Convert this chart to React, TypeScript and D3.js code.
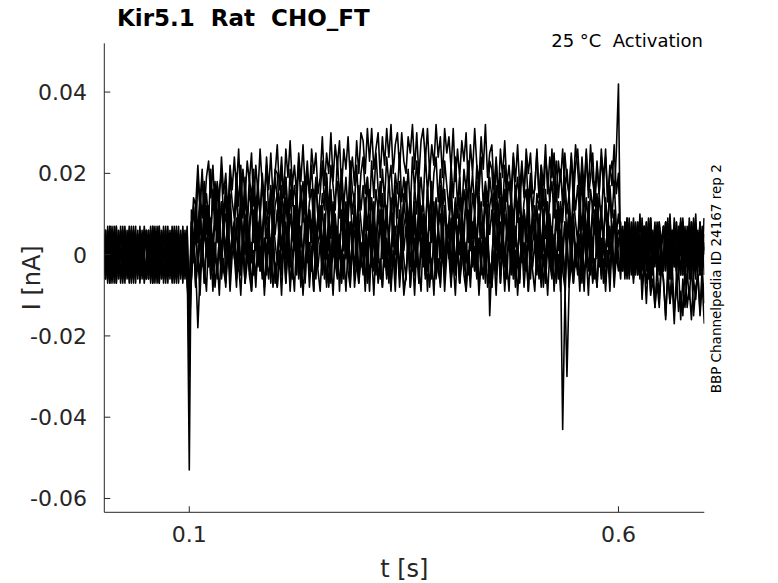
import React from 'react';
import * as d3 from 'd3';

// Sweep currents in pA (1 pA = 0.001 nA), sampled every 2.5 ms from t = 0 to 0.7 s
const dt = 0.0025;

const sweep1: number[] = [
  -4,6,-6,2,-3,7,-5,4,-1,5,-7,3,-2,6,-4,1,-6,5,-3,7,
  2,-6,5,-3,7,-5,0,6,-7,3,-4,5,-2,7,-6,1,4,-5,6,-3,
  -20,
  3,14,12,22,12,21,10,19,23,14,22,11,18,13,24,15,20,10,22,16,
  24,16,26,13,21,14,23,18,25,12,22,15,26,17,13,24,16,25,14,20,
  27,16,24,14,26,19,28,17,22,15,25,18,27,16,23,14,26,20,25,15,
  19,29,17,25,20,30,18,27,22,28,16,26,21,29,19,24,17,28,20,30,
  28,20,31,23,31,21,26,30,19,29,22,31,24,32,20,27,30,21,30,23,
  20,29,25,32,21,30,19,28,31,23,31,20,27,22,32,24,29,19,31,25,
  29,21,31,18,26,19,28,23,30,17,27,20,31,22,18,29,21,32,19,25,
  27,16,24,14,26,19,28,17,22,15,25,18,27,16,23,14,26,20,25,15,
  16,26,14,22,17,27,15,24,19,25,13,23,18,26,16,21,14,25,17,27,
  21,13,24,16,26,14,19,25,12,22,15,24,17,26,13,20,23,14,25,
  42,
  -4,5,1,9,-3,6,-5,4,8,-1,7,-4,3,-2,9,0,5,-5,7,1,
  7,-1,9,-4,4,-3,6,1,8,-5,5,-2,9,0,-4,7,-1,8,-3,3,
];
const sweep2: number[] = [
  -2,6,-5,3,-7,5,0,-6,7,-3,4,-5,2,-7,6,-1,-4,5,-6,3,
  6,-3,1,-7,5,-4,7,-2,-6,3,-5,6,-1,4,-7,2,-3,7,-5,1,
  -30,
  2,12,4,19,12,19,10,15,8,21,11,18,7,16,20,9,17,8,19,13,
  9,20,12,22,10,17,8,19,14,21,11,18,9,20,13,22,10,16,11,21,
  20,10,22,14,19,9,21,12,17,11,23,13,18,10,20,15,22,11,19,9,
  15,23,12,20,10,22,17,11,24,14,21,12,19,10,23,16,13,22,11,20,
  24,15,19,11,23,14,25,16,12,21,13,24,17,22,11,20,15,25,13,19,
  13,21,11,24,16,23,14,19,12,25,15,22,11,20,24,13,21,12,23,17,
  11,22,14,24,12,19,10,21,16,23,13,20,11,22,15,24,12,18,13,23,
  21,11,23,15,20,10,22,13,18,12,24,14,19,11,21,16,23,12,20,10,
  17,25,14,22,12,24,19,13,26,16,23,14,21,12,25,18,15,24,13,22,
  26,17,21,13,25,16,27,18,14,23,15,26,19,24,13,22,17,27,15,
  20,
  -2,6,-4,9,1,8,-1,4,-3,10,0,7,-4,5,9,-2,6,-3,8,2,
  -3,8,0,10,-2,5,-4,7,2,9,-1,6,-3,8,1,10,-2,4,-1,9,
];
const sweep3: number[] = [
  -6,3,-1,7,-5,4,-7,2,6,-3,5,-6,1,-4,7,-2,3,-7,5,-1,
  5,-3,7,-6,2,-5,4,-1,6,-7,3,-4,7,-2,-6,5,-3,6,-5,1,
  -53,
  11,2,12,3,16,9,18,7,12,5,15,8,17,6,13,4,16,10,15,5,
  8,18,6,14,9,19,7,16,11,17,5,15,10,18,8,13,6,17,9,19,
  14,6,17,9,19,7,12,18,5,15,8,17,10,19,6,13,16,7,18,9,
  6,15,11,19,7,16,5,14,18,9,17,6,13,8,19,10,15,5,17,11,
  17,9,19,6,14,7,16,11,18,5,15,8,19,10,6,17,9,18,7,13,
  18,7,15,5,17,10,19,8,13,6,16,9,18,7,14,5,17,11,16,6,
  8,18,6,14,9,19,7,16,11,17,5,15,10,18,8,13,6,17,9,19,
  14,6,17,9,19,7,12,18,5,15,8,17,10,19,6,13,16,7,18,9,
  6,15,11,19,7,16,5,14,18,9,17,6,13,8,19,10,15,5,17,11,
  17,9,19,6,14,7,16,11,18,5,15,8,19,10,6,17,9,18,7,
  8,
  8,-3,5,-5,7,0,9,-2,3,-4,6,-1,8,-3,4,-5,7,1,6,-4,
  -2,8,-4,4,-1,9,-3,6,1,7,-5,5,0,8,-2,3,-4,7,-1,9,
];
const sweep4: number[] = [
  -5,3,-7,6,-2,5,-4,1,-6,7,-3,4,-7,2,6,-5,3,-6,5,-1,
  -6,5,-3,7,-5,2,-7,4,-1,6,-4,3,-6,5,-2,7,-5,1,-4,6,
  -18,
  8,0,13,6,12,2,14,5,10,4,16,6,11,3,13,8,15,4,12,2,
  7,15,4,12,2,14,9,3,16,6,13,4,11,2,15,8,5,14,3,12,
  15,6,10,2,14,5,16,7,3,12,4,15,8,13,2,11,6,16,4,10,
  4,12,2,15,7,14,5,10,3,16,6,13,2,11,15,4,12,3,14,8,
  3,14,6,16,4,11,2,13,8,15,5,12,3,14,7,16,4,10,5,15,
  13,3,15,7,12,2,14,5,10,4,16,6,11,3,13,8,15,4,12,2,
  7,15,4,12,2,14,9,3,16,6,13,4,11,2,15,8,5,14,3,12,
  15,6,10,2,14,5,16,7,3,12,4,15,8,13,2,11,6,16,4,10,
  4,12,2,15,7,14,5,10,3,16,6,13,2,11,15,4,12,3,14,8,
  3,14,6,16,4,11,2,13,8,15,5,12,3,14,7,16,4,10,5,
  10,
  6,-4,8,0,5,-5,7,-2,3,-3,9,-1,4,-4,6,1,8,-3,5,-5,
  0,8,-3,5,-5,7,2,-4,9,-1,6,-3,4,-5,8,1,-2,7,-4,5,
];
const sweep5: number[] = [
  6,-5,3,-7,5,-2,7,-4,1,-6,4,-3,6,-5,2,-7,5,-1,4,-6,
  -4,6,-6,2,-3,7,-5,4,-1,5,-7,3,-2,6,-4,1,-6,5,-3,7,
  -12,
  5,-2,10,3,13,1,6,12,-1,9,2,11,4,13,0,7,10,1,12,3,
  0,9,5,13,1,10,-1,8,12,3,11,0,7,2,13,4,9,-1,11,5,
  11,3,13,0,8,1,10,5,12,-1,9,2,13,4,0,11,3,12,1,7,
  12,1,9,-1,11,4,13,2,7,0,10,3,12,1,8,-1,11,5,10,0,
  2,12,0,8,3,13,1,10,5,11,-1,9,4,12,2,7,0,11,3,13,
  8,0,11,3,13,1,6,12,-1,9,2,11,4,13,0,7,10,1,12,3,
  0,9,5,13,1,10,-1,8,12,3,11,0,7,2,13,4,9,-1,11,5,
  11,3,13,0,8,1,10,5,12,-1,9,2,13,4,0,11,3,12,1,7,
  12,1,9,-1,11,4,13,2,7,0,10,3,12,1,8,-1,11,5,10,0,
  2,12,0,8,3,13,1,10,5,11,-1,9,4,12,2,7,0,11,3,
  6,
  4,-4,7,-1,9,-3,2,8,-5,5,-2,7,0,9,-4,3,6,-3,8,-1,
  -4,5,1,9,-3,6,-5,4,8,-1,7,-4,3,-2,9,0,5,-5,7,1,
];
const sweep6: number[] = [
  4,-6,6,-2,3,-7,5,-4,1,-5,7,-3,2,-6,4,-1,6,-5,3,-7,
  -2,6,-5,3,-7,5,0,-6,7,-3,4,-5,2,-7,6,-1,-4,5,-6,3,
  -25,
  8,0,5,-3,9,0,11,2,-2,7,-1,10,3,8,-3,6,1,11,-1,5,
  -1,7,-3,10,2,9,0,5,-2,11,1,8,-3,6,10,-1,7,-2,9,3,
  -2,9,1,11,-1,6,-3,8,3,10,0,7,-2,9,2,11,-1,5,0,10,
  8,-2,10,2,7,-3,9,0,5,-1,11,1,6,-2,8,3,10,-1,7,-3,
  2,10,-1,7,-3,9,4,-2,11,1,8,-1,6,-3,10,3,0,9,-2,7,
  10,1,5,-3,9,0,11,2,-2,7,-1,10,3,8,-3,6,1,11,-1,5,
  -1,7,-3,10,2,9,0,5,-2,11,1,8,-3,6,10,-1,7,-2,9,-15,
  -2,9,1,11,-1,6,-3,8,3,10,0,7,-2,9,2,11,-1,5,0,10,
  8,-2,10,2,7,-3,9,0,5,-1,11,1,6,-2,8,3,10,-1,7,-3,
  2,10,-1,7,-3,9,4,-2,11,1,8,-1,6,-3,10,3,0,9,-2,
  3,
  7,-2,2,-6,6,-3,8,-1,-5,4,-4,7,0,5,-6,3,-2,8,-4,2,
  -4,4,-6,7,-1,6,-3,2,-5,8,-2,5,-6,3,7,-4,4,-5,6,0,
];
const sweep7: number[] = [
  2,-6,5,-3,7,-5,0,6,-7,3,-4,5,-2,7,-6,1,4,-5,6,-3,
  -6,3,-1,7,-5,4,-7,2,6,-3,5,-6,1,-4,7,-2,3,-7,5,-1,
  -8,
  7,-1,9,-4,4,-3,6,1,8,-5,5,-2,9,0,-4,7,-1,8,-3,3,
  8,-3,5,-5,7,0,9,-2,3,-4,6,-1,8,-3,4,-5,7,1,6,-4,
  -2,8,-4,4,-1,9,-3,6,1,7,-5,5,0,8,-2,3,-4,7,-1,9,
  4,-4,7,-1,9,-3,2,8,-5,5,-2,7,0,9,-4,3,6,-3,8,-1,
  -4,5,1,9,-3,6,-5,4,8,-1,7,-4,3,-2,9,0,5,-5,7,1,
  7,-1,9,-4,4,-3,6,1,8,-5,5,-2,9,0,-4,7,-1,8,-3,3,
  8,-3,5,-5,7,0,9,-2,3,-4,6,-1,8,-3,4,-5,7,1,6,-4,
  -2,8,-4,4,-1,9,-3,6,1,7,-5,5,0,8,-2,3,-4,7,-1,9,
  4,-4,7,-1,9,-3,2,8,-5,5,-2,7,0,-43,-12,3,6,-3,8,-1,
  -4,5,1,9,-3,6,-5,4,8,-1,7,-4,3,-2,9,0,5,-5,7,
  2,
  6,-2,8,-5,3,-4,5,0,7,-6,4,-3,8,-1,-5,6,-2,7,-4,2,
  7,-4,4,-6,6,-1,8,-3,2,-5,5,-2,7,-4,3,-6,6,0,5,-5,
];
const sweep8: number[] = [
  6,-3,1,-7,5,-4,7,-2,-6,3,-5,6,-1,4,-7,2,-3,7,-5,1,
  -5,3,-7,6,-2,5,-4,1,-6,7,-3,4,-7,2,6,-5,3,-6,5,-1,
  -10,
  -6,5,-3,-18,-5,2,-7,4,-1,6,-4,3,-6,5,-2,7,-5,1,-4,6,
  4,-6,6,-2,3,-7,5,-4,1,-5,7,-3,2,-6,4,-1,6,-5,3,-7,
  -2,6,-5,3,-7,5,0,-6,7,-3,4,-5,2,-7,6,-1,-4,5,-6,3,
  6,-3,1,-7,5,-4,7,-2,-6,3,-5,6,-1,4,-7,2,-3,7,-5,1,
  -5,3,-7,6,-2,5,-4,1,-6,7,-3,4,-7,2,6,-5,3,-6,5,-1,
  -6,5,-3,7,-5,2,-7,4,-1,6,-4,3,-6,5,-2,7,-5,1,-4,6,
  4,-6,6,-2,3,-7,5,-4,1,-5,7,-3,2,-6,4,-1,6,-5,3,-7,
  -2,6,-5,3,-7,5,0,-6,7,-3,4,-5,2,-7,6,-1,-4,5,-6,3,
  6,-3,1,-7,5,-4,7,-2,-6,3,-5,6,-1,4,-7,-30,-8,7,-5,1,
  -5,3,-7,6,-2,5,-4,1,-6,7,-3,4,-7,2,6,-5,3,-6,5,
  0,
  -6,5,-3,7,-5,2,-7,3,-3,3,-8,-2,-12,-1,-9,0,-13,-7,-13,-3,
  -6,-16,-4,-12,-7,-17,-5,-14,-9,-15,-3,-13,-8,-16,-6,-11,-4,-15,-7,-17,
];
const sweep9: number[] = [
  5,-3,7,-6,2,-5,4,-1,6,-7,3,-4,7,-2,-6,5,-3,6,-5,1,
  6,-5,3,-7,5,-2,7,-4,1,-6,4,-3,6,-5,2,-7,5,-1,4,-6,
  -19,
  -6,4,-8,0,-5,5,-7,2,-3,3,-9,1,-4,4,-6,-1,-8,3,-5,5,
  0,-8,3,-5,5,-7,-2,4,-9,1,-6,3,-4,5,-8,-1,2,-7,4,-5,
  -8,1,-3,5,-7,2,-9,0,4,-5,3,-8,-1,-6,5,-4,1,-9,3,-3,
  3,-5,5,-8,0,-7,2,-3,4,-9,1,-6,5,-4,-8,3,-5,4,-7,-1,
  4,-7,1,-9,3,-4,5,-6,-1,-8,2,-5,4,-7,0,-9,3,-3,2,-8,
  -6,4,-8,0,-5,5,-7,2,-3,3,-9,1,-4,4,-6,-1,-8,3,-5,5,
  0,-8,3,-5,5,-7,-2,4,-9,1,-6,3,-4,5,-8,-1,2,-7,4,-5,
  -8,1,-3,5,-7,2,-9,0,4,-5,3,-8,-1,-6,5,-4,1,-9,3,-3,
  3,-5,5,-8,0,-7,2,-3,4,-9,1,-6,5,-4,-8,3,-5,4,-7,-1,
  4,-7,1,-9,3,-4,5,-6,-1,-8,2,-5,4,-7,0,-9,3,-3,2,
  -3,
  -4,6,-6,2,-3,6,-6,2,-4,2,-11,-2,-7,0,-10,-6,-13,-3,-11,-1,
  -7,-15,-4,-12,-2,-14,-9,-3,-16,-6,-13,-4,-11,-2,-15,-8,-5,-14,-3,-12,
];
const sweep10: number[] = [
  -6,5,-3,7,-5,2,-7,4,-1,6,-4,3,-6,5,-2,7,-5,1,-4,6,
  4,-6,6,-2,3,-7,5,-4,1,-5,7,-3,2,-6,4,-1,6,-5,3,-7,
  -14,
  -5,3,-8,0,-10,2,-3,-9,4,-6,1,-8,-1,-10,3,-4,-7,2,-9,0,
  3,-6,-2,-10,2,-7,4,-5,-9,0,-8,3,-4,1,-10,-1,-6,4,-8,-2,
  -8,0,-10,3,-5,2,-7,-2,-9,4,-6,1,-10,-1,3,-8,0,-9,2,-4,
  -9,2,-6,4,-8,-1,-10,1,-4,3,-7,0,-9,2,-5,4,-8,-2,-7,3,
  1,-9,3,-5,0,-10,2,-7,-2,-8,4,-6,-1,-9,1,-4,3,-8,0,-10,
  -5,3,-8,0,-10,2,-3,-9,4,-6,1,-8,-1,-10,3,-4,-7,2,-9,0,
  3,-6,-2,-10,2,-7,4,-5,-9,0,-8,3,-4,1,-10,-1,-6,4,-8,-2,
  -8,0,-10,3,-5,2,-7,-2,-9,4,-6,1,-10,-1,3,-8,0,-9,2,-4,
  -9,2,-6,4,-8,-1,-10,1,-4,3,-7,0,-9,2,-5,4,-8,-2,-7,3,
  1,-9,3,-5,0,-10,2,-7,-2,-8,4,-6,-1,-9,1,-4,3,-8,0,
  -4,
  -1,7,-4,4,-6,6,1,-5,8,-2,5,-4,3,-6,7,0,-3,6,-5,4,
  7,-2,2,-6,6,-3,8,-1,-5,4,-4,7,0,5,-6,3,-2,8,-4,2,
];

const sweeps = [sweep1, sweep2, sweep3, sweep4, sweep5, sweep6, sweep7, sweep8, sweep9, sweep10];

const xTicks = [0.1, 0.6];
const yTicks = [0.04, 0.02, 0, -0.02, -0.04, -0.06];

const title = 'Kir5.1  Rat  CHO_FT';
const subtitle = '25 °C  Activation';
const sideNote = 'BBP Channelpedia ID 24167 rep 2';

export default function App() {
  const W = 778;
  const H = 583;
  const left = 104.3, right = 704.3, top = 43.3, bottom = 512.3;
  const x = d3.scaleLinear().domain([0.001, 0.7]).range([left, right]);
  const y = d3.scaleLinear().domain([-0.0634, 0.052]).range([bottom, top]);
  const line = d3
    .line<number>()
    .x((_, i) => x(i * dt))
    .y((v) => y(v / 1000));
  const font = 'DejaVu Sans, Verdana, sans-serif';
  const axisColor = '#262626';

  return (
    <svg
      width={W}
      height={H}
      style={{ position: 'absolute', left: 0, top: 0, background: '#fff' }}
      fontFamily={font}
    >
      <rect x={0} y={0} width={W} height={H} fill="#fff" />
      <defs>
        <clipPath id="plotclip">
          <rect x={left} y={top} width={right - left} height={bottom - top} />
        </clipPath>
      </defs>
      <g clipPath="url(#plotclip)">
        {sweeps.map((s, i) => (
          <path key={i} d={line(s) || ''} fill="none" stroke="#000" strokeWidth={1.6} strokeLinejoin="round" />
        ))}
      </g>
      <line x1={left} x2={left} y1={top} y2={bottom} stroke={axisColor} strokeWidth={1} />
      <line x1={left} x2={right} y1={bottom} y2={bottom} stroke={axisColor} strokeWidth={1} />
      {yTicks.map((t) => (
        <g key={'y' + t}>
          <line x1={left} x2={left + 6} y1={y(t)} y2={y(t)} stroke={axisColor} strokeWidth={1} />
          <text x={87} y={y(t) + 8} textAnchor="end" fontSize={22} fill={axisColor}>
            {t === 0 ? '0' : String(t)}
          </text>
        </g>
      ))}
      {xTicks.map((t) => (
        <g key={'x' + t}>
          <line x1={x(t)} x2={x(t)} y1={bottom} y2={bottom - 6} stroke={axisColor} strokeWidth={1} />
          <text x={x(t)} y={542} textAnchor="middle" fontSize={22} fill={axisColor}>
            {String(t)}
          </text>
        </g>
      ))}
      <text x={(left + right) / 2} y={577} textAnchor="middle" fontSize={24} fill={axisColor}>
        t [s]
      </text>
      <text
        transform={`translate(40, ${(top + bottom) / 2}) rotate(-90)`}
        textAnchor="middle"
        fontSize={24}
        fill={axisColor}
      >
        I [nA]
      </text>
      <text x={117} y={26} fontSize={23} fontWeight="bold" fill="#000" style={{ whiteSpace: 'pre' }}>
        {title}
      </text>
      <text x={703} y={47} textAnchor="end" fontSize={18} fill="#000" style={{ whiteSpace: 'pre' }}>
        {subtitle}
      </text>
      <text
        transform={`translate(721, ${(top + bottom) / 2 + 1}) rotate(-90)`}
        textAnchor="middle"
        fontSize={13.5}
        fill="#000"
      >
        {sideNote}
      </text>
    </svg>
  );
}
